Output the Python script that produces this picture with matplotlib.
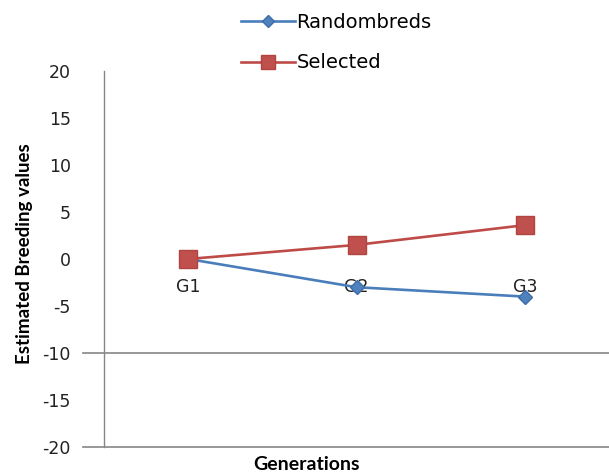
import matplotlib
matplotlib.use("Agg")
import matplotlib.pyplot as plt

# data
generations = ["G1", "G2", "G3"]
randombreds = [0.0, -3.0, -4.0]
selected = [0.0, 1.5, 3.6]
y_ticks = [-20, -15, -10, -5, 0, 5, 10, 15, 20]
ref_lines = [-10, -20]

plt.rcParams["font.family"] = ["DejaVu Sans"]

fig = plt.figure(figsize=(6.09, 4.74), dpi=100)
ax = fig.add_axes([104 / 609, 1 - 447 / 474, 1 - 104 / 609, (447 - 71) / 474])

x = list(range(1, len(generations) + 1))
ax.plot(x, randombreds, color="#4A7EBB", lw=1.9, marker="D", markersize=7.5,
        markerfacecolor="#4F81BD", markeredgecolor="#3C6DA8", label="Randombreds")
ax.plot(x, selected, color="#BE4B48", lw=1.9, marker="s", markersize=12.5,
        markerfacecolor="#C0504D", markeredgecolor="#B04540", label="Selected")

for yv in ref_lines:
    ax.axhline(yv, xmin=-0.042, xmax=1.0, color="#868686", lw=1.2, clip_on=False, zorder=1)

ax.set_xlim(0.5, 3.5)
ax.set_ylim(-20, 20)
ax.set_yticks(y_ticks)
ax.set_yticklabels([str(v) for v in y_ticks])
ax.set_xticks(x)
ax.set_xticklabels(generations)

ax.spines["top"].set_visible(False)
ax.spines["right"].set_visible(False)
ax.spines["bottom"].set_position(("data", 0))
ax.spines["bottom"].set_visible(False)
ax.spines["left"].set_color("#868686")
ax.spines["left"].set_linewidth(1.0)

ax.tick_params(axis="y", length=0, pad=24, labelsize=12.5, colors="#222222")
ax.tick_params(axis="x", length=0, pad=14, labelsize=12.5, colors="#222222")

# axis titles placed in figure pixels, like the reference
fig.text(25 / 609, 1 - 254 / 474, "Estimated Breeding values", fontfamily="Lato",
         fontweight="bold", fontsize=13.5, rotation=90, ha="center", va="center")
fig.text(306 / 609, 1 - 465 / 474, "Generations", fontfamily="Lato", fontweight="bold",
         fontsize=14, ha="center", va="center")

fig.legend(loc="upper left", bbox_to_anchor=(241 / 609, 1 - 13 / 474), frameon=False,
           fontsize=14, borderpad=0, borderaxespad=0, handlelength=2.8, handletextpad=0.05,
           labelspacing=1.1, markerscale=0.75)

fig.savefig("out.png", dpi=100, facecolor="white")
